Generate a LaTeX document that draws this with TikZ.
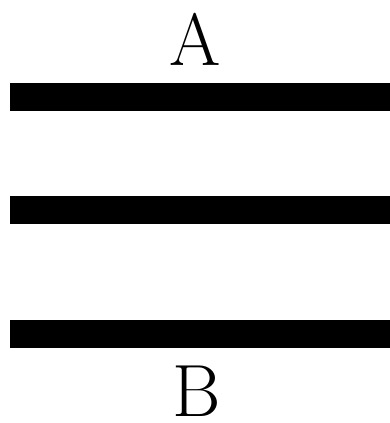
\documentclass[tikz,border=0pt]{standalone}
\usepackage{tikz}
\usetikzlibrary{positioning}
\tikzset{
  lettera/.style = {inner sep=0, anchor=base, font=\fontsize{74}{74}\selectfont},
  barra/.style   = {line width=28pt, line cap=butt}
}
\begin{document}
\begin{tikzpicture}[x=1pt,y=-1pt]

  \useasboundingbox (0,0) rectangle (390,423);

  % ---- lettere ----
  \node[lettera] (A) at (195,65) {A};
  \node[lettera] (B) at (197,416) {B};

  % ---- barre (3) ----
  \coordinate (b1s) at (10, 97);  \coordinate (b1d) at (390, 97);  \draw[barra] (b1s)--(b1d);
  \coordinate (b2s) at (10,210);  \coordinate (b2d) at (390,210);  \draw[barra] (b2s)--(b2d);
  \coordinate (b3s) at (10,334);  \coordinate (b3d) at (390,334);  \draw[barra] (b3s)--(b3d);

\end{tikzpicture}
\end{document}
